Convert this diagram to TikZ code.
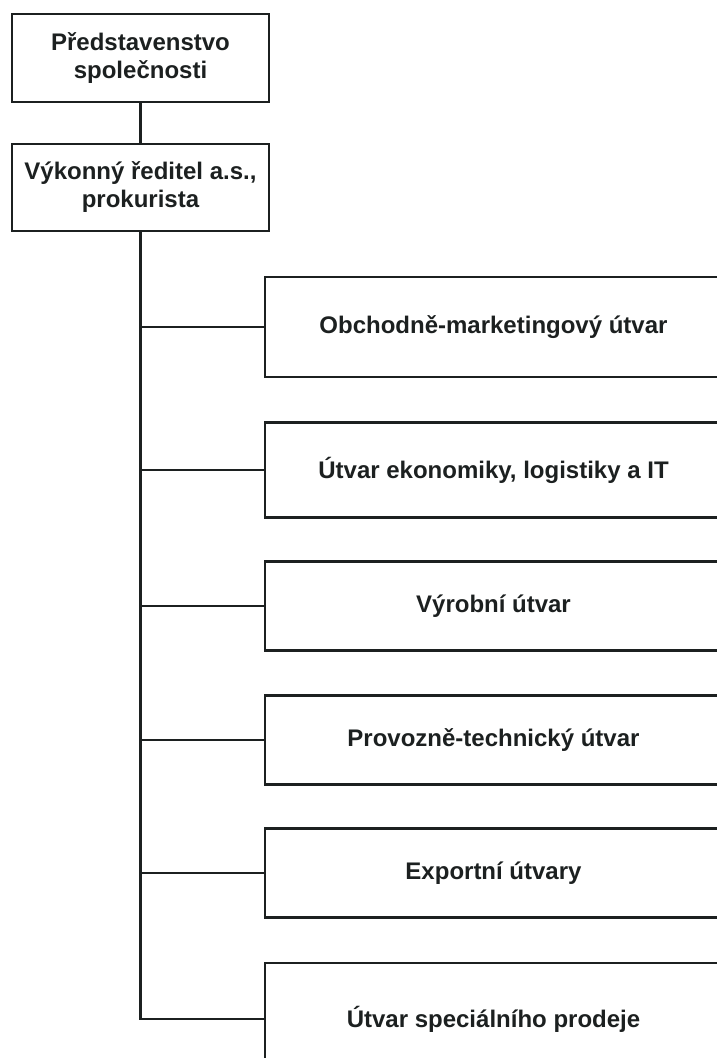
\documentclass[tikz,border=0pt]{standalone}
\usepackage{fontspec}
\setmainfont{Liberation Sans}
\usepackage{tikz}
\usetikzlibrary{positioning,calc}
\definecolor{inkc}{RGB}{28,32,32}
\tikzset{
  orgbox/.style={draw=inkc,line width=2.3pt,minimum width=257pt,
    inner sep=2pt,align=center,text=inkc,
    font=\bfseries\fontsize{24}{28}\selectfont},
  unitbox/.style={draw=inkc,line width=2.3pt,minimum width=457pt,
    inner sep=2pt,text=inkc,font=\bfseries\fontsize{24}{28}\selectfont},
  orgedge/.style={draw=inkc,line width=2.3pt},
}
\begin{document}
\begin{tikzpicture}[x=1pt,y=-1pt]
  \useasboundingbox (0,0) rectangle (717,1058);
  \clip (0,0) rectangle (717,1058);
  \node[orgbox,minimum height=88pt] (board) at (140.5,58) {Představenstvo\\společnosti};
  \node[orgbox,minimum height=87pt] (ceo) at (140.5,187.5) {Výkonný ředitel a.s.,\\prokurista};
  \node[unitbox,minimum height=100pt] (u1) at (493.5,327) {Obchodně-marketingový útvar};
  \node[unitbox,minimum height=95pt] (u2) at (493.5,470) {Útvar ekonomiky, logistiky a IT};
  \node[unitbox,minimum height=89pt] (u3) at (493.5,606) {Výrobní útvar};
  \node[unitbox,minimum height=89pt] (u4) at (493.5,740) {Provozně-technický útvar};
  \node[unitbox,minimum height=89pt] (u5) at (493.5,873) {Exportní útvary};
  \node[unitbox,minimum height=112pt] (u6) at (493.5,1019) {Útvar speciálního prodeje};
  \draw[orgedge] (board) -- (ceo);
  \draw[orgedge] (ceo.south) |- (u6.west);
  \foreach \u in {u1,u2,u3,u4,u5}
    \draw[orgedge] (ceo.south |- \u.west) -- (\u.west);
\end{tikzpicture}
\end{document}
